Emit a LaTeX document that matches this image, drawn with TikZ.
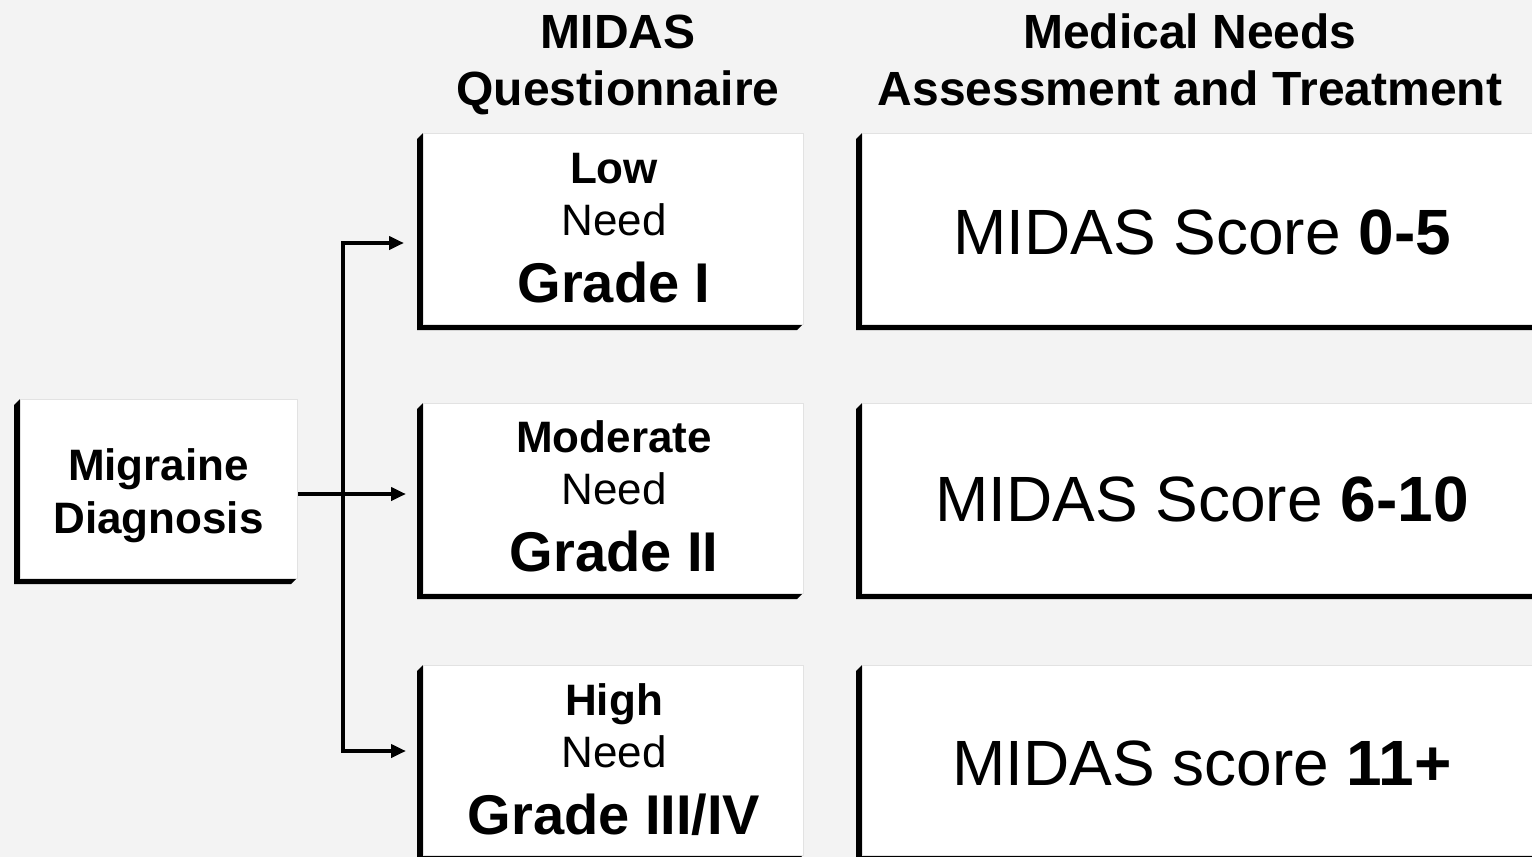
\documentclass[tikz,border=0pt]{standalone}
\usepackage{fontspec}
\setmainfont{Liberation Sans}
\usetikzlibrary{arrows.meta,calc,backgrounds}
\definecolor{bgcol}{HTML}{F3F3F3}
\definecolor{edgecol}{HTML}{E2E2E2}
\tikzset{
  box/.style={draw=edgecol, line width=1pt, fill=white, inner sep=0pt, outer sep=0pt},
  hdr/.style={font=\fontsize{48}{48}\selectfont\bfseries, anchor=base, inner sep=0pt},
  lblb/.style={font=\fontsize{44}{44}\selectfont\bfseries, anchor=base, inner sep=0pt},
  lbl/.style={font=\fontsize{44}{44}\selectfont, anchor=base, inner sep=0pt},
  grade/.style={font=\fontsize{56}{56}\selectfont\bfseries, anchor=base, inner sep=0pt},
  score/.style={font=\fontsize{64}{64}\selectfont, anchor=base, inner sep=0pt},
  conn/.style={line width=4pt, line join=miter},
  tip/.tip={Triangle[length=15pt,width=13pt]}
}
\newcommand\boxshadow[1]{\fill[black] (#1.north west) -- ++(-6,6) -- ($(#1.south west)+(-6,6)$) -- ($(#1.south east)+(-6,6)$) -- (#1.south east) -- cycle;}
\begin{document}
\begin{tikzpicture}[x=1pt,y=-1pt]
\useasboundingbox (0,0) rectangle (1532,857);
\begin{pgfonlayer}{background}
\fill[bgcol] (0,0) rectangle (1532,857);
\end{pgfonlayer}

% headers
\node[hdr] (h1) at (618,48) {MIDAS};
\node[hdr] (h2) at (618,105) {Questionnaire};
\node[hdr] (h3) at (1190,48) {Medical Needs};
\node[hdr] (h4) at (1190,105) {Assessment and Treatment};

% boxes
\node[box, minimum width=277pt, minimum height=179pt] (diag) at (158.5,488.5) {};
\node[box, minimum width=380pt, minimum height=191pt] (g1) at (613,228.5) {};
\node[box, minimum width=380pt, minimum height=190pt] (g2) at (613,498) {};
\node[box, minimum width=380pt, minimum height=190pt] (g3) at (613,760) {};
\node[box, minimum width=680pt, minimum height=191pt] (s1) at (1202,228.5) {};
\node[box, minimum width=680pt, minimum height=190pt] (s2) at (1202,498) {};
\node[box, minimum width=680pt, minimum height=190pt] (s3) at (1202,760) {};

\begin{pgfonlayer}{background}
\boxshadow{diag}
\boxshadow{g1}\boxshadow{g2}\boxshadow{g3}
\boxshadow{s1}\boxshadow{s2}\boxshadow{s3}
\end{pgfonlayer}

% texts
\node[lblb] (d1) at (158.5,480) {Migraine};
\node[lblb] (d2) at (158.5,533) {Diagnosis};

\node[lblb] (l1) at (614,183) {Low};
\node[lbl]  (n1) at (614,235) {Need};
\node[grade] (r1) at (614,302) {Grade I};

\node[lblb] (l2) at (614,452) {Moderate};
\node[lbl]  (n2) at (614,504) {Need};
\node[grade] (r2) at (614,571) {Grade II};

\node[lblb] (l3) at (614,715) {High};
\node[lbl]  (n3) at (614,767) {Need};
\node[grade] (r3) at (614,834) {Grade III/IV};

\node[score] (c1) at (1202,254) {MIDAS Score \textbf{0-5}};
\node[score] (c2) at (1202,521) {MIDAS Score \textbf{6-10}};
\node[score] (c3) at (1202,785) {MIDAS score \textbf{11+}};

% connectors
\coordinate (a0) at (298,494);
\coordinate (t1) at (404,243);
\coordinate (t2) at (406,494);
\coordinate (t3) at (406,751);
\coordinate (v1) at (343,243);
\coordinate (v3) at (343,751);
\draw[conn, tip-tip] (t1) -- (v1) -- (v3) -- (t3);
\draw[conn, -tip] (a0) -- (t2);
\end{tikzpicture}
\end{document}
